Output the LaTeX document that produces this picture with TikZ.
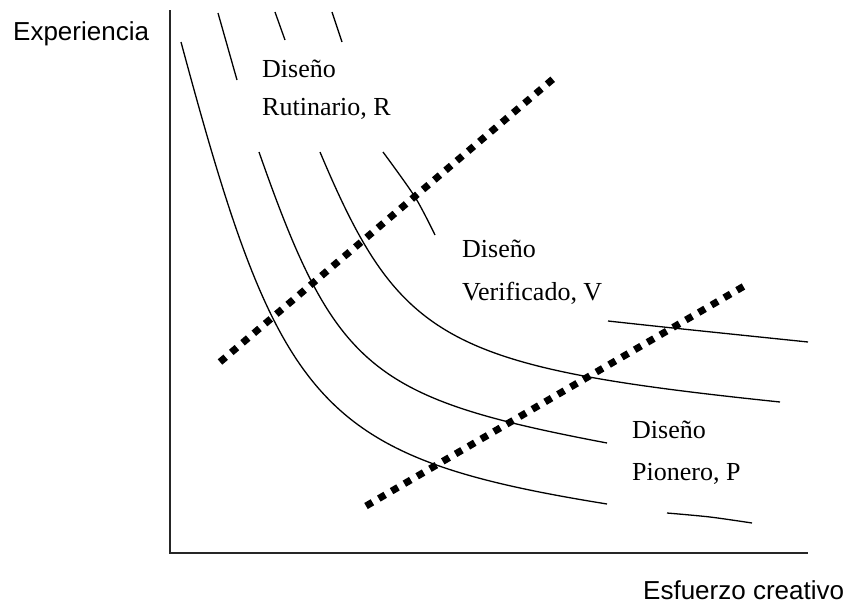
\documentclass[tikz,border=0pt]{standalone}
\usepackage{fontspec}
\setmainfont{Liberation Serif}
\newfontfamily\axfont{Liberation Sans}
\begin{document}
\begin{tikzpicture}[x=1pt,y=-1pt,
  curve/.style={line width=1.3pt},
  axis/.style={line width=2.2pt, draw=black!85},
  dotline/.style={line width=7pt, dash pattern=on 7.4pt off 7.4pt},
  lbl/.style={inner sep=0pt, anchor=base west, font=\fontsize{26}{30}\selectfont},
  axlbl/.style={inner sep=0pt, anchor=base west, font=\axfont\fontsize{26}{30}\selectfont}]
\useasboundingbox (0,0) rectangle (852,603);
% axes
\draw[axis] (170,10) -- (170,553) -- (808,553);
% curve 1
\draw[curve] (181,42) .. controls (279,406) and (316,457) .. (607,504);
\draw[curve] plot[smooth] coordinates {(667,513) (710,517) (752,523)};
% curve 2
\draw[curve] (218,13) -- (237,80);
\draw[curve] (259,152) .. controls (335,369) and (370,398) .. (607,443);
% curve 3
\draw[curve] (275,12) -- (285,40);
\draw[curve] (320,152) .. controls (400,342) and (445,367) .. (780,402);
% curve 4
\draw[curve] (332,12) -- (342,42);
\draw[curve] plot[smooth] coordinates {(383,152) (415,197) (435,235)};
\draw[curve] plot[smooth] coordinates {(608,321) (673,328) (808,342)};
% dotted boundaries
\coordinate (u1) at (220,362);
\coordinate (u2) at (553,79);
\coordinate (l1) at (366,506);
\coordinate (l2) at (746,285);
\draw[dotline] (u1) -- (u2);
\draw[dotline] (l1) -- (l2);
% labels
\node[axlbl] (ye) at (13,40) {Experiencia};
\node[axlbl] (xe) at (643,599) {Esfuerzo creativo};
\node[lbl] (r1) at (262,77) {Diseño};
\node[lbl] (r2) at (262,115) {Rutinario, R};
\node[lbl] (v1) at (462,257) {Diseño};
\node[lbl] (v2) at (462,300) {Verificado, V};
\node[lbl] (p1) at (632,438) {Diseño};
\node[lbl] (p2) at (632,480) {Pionero, P};
\end{tikzpicture}
\end{document}
